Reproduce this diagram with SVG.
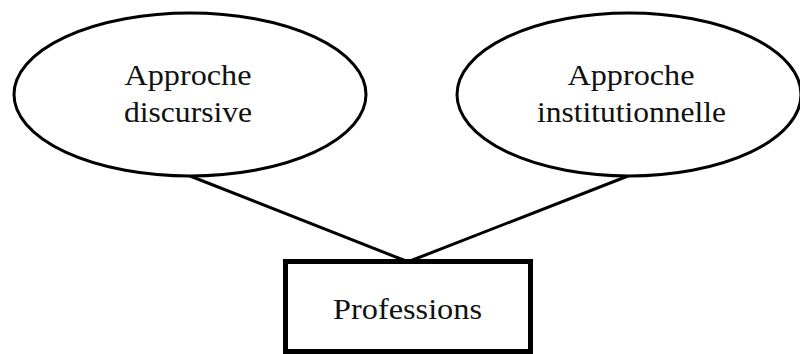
<svg xmlns="http://www.w3.org/2000/svg" width="800" height="354" viewBox="0 0 800 354">
<style>
.shape{fill:#fff;stroke:#000;stroke-width:3}
.edge{stroke:#000;stroke-width:3;fill:none}
.lbl{font-family:"Liberation Serif","Times New Roman",serif;font-size:30px;fill:#111;text-anchor:middle}
</style>
<rect x="0" y="0" width="800" height="354" fill="#fff"/>
<g id="connectors">
<line class="edge" x1="190" y1="176" x2="406" y2="261"/>
<line class="edge" x1="628" y1="176" x2="410" y2="261"/>
</g>
<g id="node-discursive">
<ellipse class="shape" cx="190" cy="94.5" rx="176" ry="81.5"/>
<text class="lbl" x="188" y="85" textLength="127" lengthAdjust="spacingAndGlyphs">Approche</text>
<text class="lbl" x="188" y="122" textLength="128" lengthAdjust="spacingAndGlyphs">discursive</text>
</g>
<g id="node-institutionnelle">
<ellipse class="shape" cx="629" cy="94.5" rx="172" ry="81.5"/>
<text class="lbl" x="631" y="85" textLength="127" lengthAdjust="spacingAndGlyphs">Approche</text>
<text class="lbl" x="631.5" y="122" textLength="189" lengthAdjust="spacingAndGlyphs">institutionnelle</text>
</g>
<g id="node-professions">
<rect x="285.5" y="261.5" width="245" height="90" fill="#fff" stroke="#000" stroke-width="5"/>
<text class="lbl" x="407.5" y="319" textLength="149" lengthAdjust="spacingAndGlyphs">Professions</text>
</g>
</svg>
